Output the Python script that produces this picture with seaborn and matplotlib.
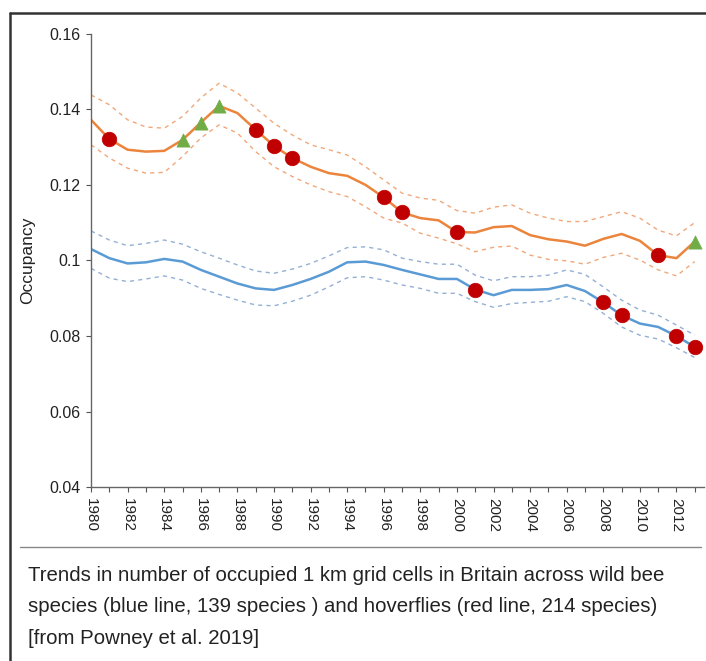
import numpy as np
import pandas as pd
import matplotlib
matplotlib.use('Agg')
import matplotlib.pyplot as plt
from matplotlib.lines import Line2D
import seaborn as sns

years = list(range(1980, 2014))

# hoverflies (orange)
hover_mean = [0.1372, 0.1321, 0.1293, 0.1288, 0.1290, 0.1319, 0.1365, 0.1409, 0.1390, 0.1346,
              0.1303, 0.1271, 0.1248, 0.1231, 0.1224, 0.1200, 0.1167, 0.1127, 0.1112, 0.1106,
              0.1075, 0.1074, 0.1088, 0.1091, 0.1067, 0.1056, 0.1050, 0.1039, 0.1057, 0.1070,
              0.1052, 0.1014, 0.1006, 0.1050]
hover_upper = [0.1438, 0.1412, 0.1372, 0.1353, 0.1350, 0.1381, 0.1430, 0.1469, 0.1443, 0.1403,
               0.1363, 0.1332, 0.1306, 0.1293, 0.1279, 0.1248, 0.1213, 0.1178, 0.1165, 0.1159,
               0.1132, 0.1125, 0.1141, 0.1147, 0.1125, 0.1112, 0.1103, 0.1103, 0.1116, 0.1129,
               0.1112, 0.1080, 0.1065, 0.1100]
hover_lower = [0.1306, 0.1271, 0.1244, 0.1231, 0.1233, 0.1275, 0.1324, 0.1359, 0.1337, 0.1288,
               0.1248, 0.1222, 0.1200, 0.1182, 0.1169, 0.1142, 0.1112, 0.1099, 0.1072, 0.1059,
               0.1044, 0.1023, 0.1035, 0.1038, 0.1014, 0.1003, 0.0999, 0.0990, 0.1008, 0.1019,
               0.1001, 0.0975, 0.0959, 0.0997]

# wild bees (blue)
bee_mean = [0.1030, 0.1006, 0.0992, 0.0995, 0.1004, 0.0997, 0.0975, 0.0957, 0.0939, 0.0926,
            0.0922, 0.0935, 0.0951, 0.0970, 0.0995, 0.0997, 0.0988, 0.0975, 0.0963, 0.0951,
            0.0951, 0.0923, 0.0908, 0.0922, 0.0922, 0.0924, 0.0935, 0.0919, 0.0889, 0.0855,
            0.0833, 0.0824, 0.0800, 0.0771]
bee_upper = [0.1078, 0.1054, 0.1039, 0.1045, 0.1054, 0.1043, 0.1023, 0.1006, 0.0988, 0.0972,
             0.0966, 0.0977, 0.0992, 0.1012, 0.1034, 0.1036, 0.1028, 0.1006, 0.0997, 0.0990,
             0.0990, 0.0961, 0.0946, 0.0957, 0.0957, 0.0961, 0.0975, 0.0963, 0.0930, 0.0895,
             0.0869, 0.0855, 0.0829, 0.0802]
bee_lower = [0.0979, 0.0953, 0.0944, 0.0951, 0.0959, 0.0948, 0.0926, 0.0910, 0.0895, 0.0882,
             0.0880, 0.0892, 0.0908, 0.0930, 0.0954, 0.0957, 0.0948, 0.0935, 0.0926, 0.0913,
             0.0913, 0.0891, 0.0876, 0.0886, 0.0889, 0.0892, 0.0904, 0.0891, 0.0860, 0.0824,
             0.0802, 0.0792, 0.0769, 0.0743]

# years flagged on each curve
hover_decline_years = [1981, 1989, 1990, 1991, 1996, 1997, 2000, 2011]
hover_increase_years = [1985, 1986, 1987, 2013]
bee_decline_years = [2001, 2008, 2009, 2012, 2013]

ytick_vals = [0.04, 0.06, 0.08, 0.10, 0.12, 0.14, 0.16]
ytick_labels = ['0.04', '0.06', '0.08', '0.1', '0.12', '0.14', '0.16']

caption = ('Trends in number of occupied 1 km grid cells in Britain across wild bee\n'
           'species (blue line, 139 species ) and hoverflies (red line, 214 species)\n'
           '[from Powney et al. 2019]')

ORANGE = '#EB843C'
ORANGE_LIGHT = '#F0A87A'
BLUE = '#5B9BD5'
BLUE_LIGHT = '#93B0D4'
RED = '#C00000'
GREEN = '#70AD47'


def main():
    sns.set_style('white')
    plt.rcParams['font.family'] = ['Liberation Sans', 'DejaVu Sans']

    df = pd.DataFrame({'year': years,
                       'hover': hover_mean, 'hover_hi': hover_upper, 'hover_lo': hover_lower,
                       'bee': bee_mean, 'bee_hi': bee_upper, 'bee_lo': bee_lower})

    fig = plt.figure(figsize=(7.06, 6.61), dpi=100)
    ax = fig.add_axes([0.129, 0.263, 0.868, 0.686])

    # confidence bands
    for col, c in [('hover_hi', ORANGE_LIGHT), ('hover_lo', ORANGE_LIGHT),
                   ('bee_hi', BLUE_LIGHT), ('bee_lo', BLUE_LIGHT)]:
        sns.lineplot(data=df, x='year', y=col, ax=ax, color=c, lw=1.0,
                     linestyle=(0, (3, 3)))
    sns.lineplot(data=df, x='year', y='hover', ax=ax, color=ORANGE, lw=1.8)
    sns.lineplot(data=df, x='year', y='bee', ax=ax, color=BLUE, lw=1.8)

    dec = pd.concat([df[df['year'].isin(hover_decline_years)][['year', 'hover']].rename(columns={'hover': 'v'}),
                     df[df['year'].isin(bee_decline_years)][['year', 'bee']].rename(columns={'bee': 'v'})])
    inc = df[df['year'].isin(hover_increase_years)][['year', 'hover']].rename(columns={'hover': 'v'})
    sns.scatterplot(data=dec, x='year', y='v', ax=ax, color=RED, s=110,
                    edgecolor=RED, linewidth=0.5, zorder=5)
    sns.scatterplot(data=inc, x='year', y='v', ax=ax, color=GREEN, marker='^', s=90,
                    edgecolor=GREEN, linewidth=0.5, zorder=5)

    ax.set_xlim(1980, 2013.5)
    ax.set_ylim(0.04, 0.16)
    ax.set_xticks(years)
    ax.set_xticklabels([str(y) if y % 2 == 0 else '' for y in years],
                       rotation=-90, fontsize=11)
    ax.set_yticks(ytick_vals)
    ax.set_yticklabels(ytick_labels, fontsize=11.5)
    ax.tick_params(axis='both', direction='out', length=3.5, width=0.8,
                   color='#555555', labelcolor='#222222', pad=4, left=True, bottom=True)
    ax.set_xlabel('')
    ax.set_ylabel('Occupancy', fontsize=12.5, color='#222222')
    ax.yaxis.set_label_coords(-0.092, 0.5)
    for s in ['top', 'right']:
        ax.spines[s].set_visible(False)
    for s in ['left', 'bottom']:
        ax.spines[s].set_color('#666666')
        ax.spines[s].set_linewidth(1.0)

    # separator, caption and outer frame
    fig.add_artist(Line2D([0.028, 0.993], [1 - 547 / 661, 1 - 547 / 661],
                          color='#888888', lw=1.0))
    fig.text(0.040, 1 - 566 / 661, caption, fontsize=14.7, color='#222222',
             va='top', ha='left', linespacing=1.83)
    fig.add_artist(Line2D([0.014, 1.0], [1 - 13 / 661, 1 - 13 / 661], color='#333333', lw=1.8))
    fig.add_artist(Line2D([0.014, 0.014], [0.0, 1 - 13 / 661], color='#333333', lw=1.8))

    fig.savefig('out.png', dpi=100, facecolor='white')


main()
